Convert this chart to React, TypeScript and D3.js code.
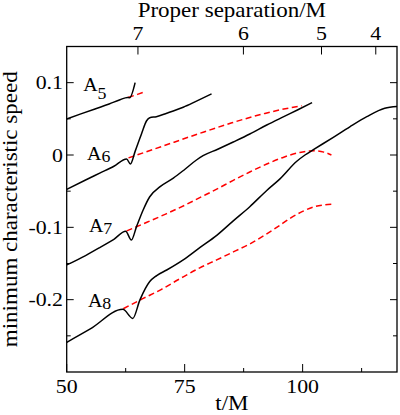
import React from "react";
import * as d3 from "d3";

// ---------- data ----------
const xTicksMajor = [50, 75, 100];
const xTicksMinor = [62.5, 87.5, 112.5];
const yTicksMajor = [0.1, 0, -0.1, -0.2];
const yTicksMinor = [0.05, -0.05, -0.15, -0.25];
const yTickLabels = ["0.1", "0", "-0.1", "-0.2"];
// top axis: proper separation labels placed at corresponding t/M
const topTickT = [65.1, 87.45, 104.0, 115.5];
const topTickLabels = ["7", "6", "5", "4"];

const a5Solid: [number, number][] = [
  [50, 0.0497], [53, 0.0568], [56, 0.0637], [59, 0.0705], [61.3, 0.0765],
  [62.9, 0.0796], [63.35, 0.0792], [64.5, 0.1],
];
const a5Dash: [number, number][] = [
  [63.0, 0.0795], [65, 0.0838], [66.8, 0.088],
];
const a6Solid: [number, number][] = [
  [50, -0.0475], [54, -0.0345], [57, -0.025], [60, -0.0155], [62.7, -0.0055],
  [63.5, -0.0125], [64.5, 0.005], [65.9, 0.03], [66.9, 0.047], [67.6, 0.0515],
  [69, 0.053], [71.2, 0.0577], [74.7, 0.066], [77.5, 0.0745], [80.7, 0.0845],
];
const a6Dash: [number, number][] = [
  [63.1, -0.004], [70, 0.0115], [78, 0.0295], [85, 0.0445], [92, 0.0575],
  [96, 0.0635], [99.8, 0.068],
];
const a7Solid: [number, number][] = [
  [50, -0.152], [54, -0.139], [57, -0.128], [60, -0.1165], [62.5, -0.1055],
  [63.7, -0.1175], [64.8, -0.099], [66.2, -0.076], [67.6, -0.0577],
  [69.8, -0.0438], [72.6, -0.032], [75, -0.02], [77.5, -0.0069], [78.9, -0.001],
  [82, 0.008], [85.3, 0.018], [88.8, 0.029], [92.4, 0.0415], [96, 0.053],
  [99, 0.0625], [102, 0.0723],
];
const a7Dash: [number, number][] = [
  [62.7, -0.105], [67, -0.093], [71.2, -0.081], [75, -0.0695], [78.2, -0.059],
  [82, -0.0465], [85.3, -0.035], [88.8, -0.0235], [92.4, -0.0125], [96, -0.003],
  [99.4, 0.0035], [102.5, 0.006], [104.5, 0.004], [106.1, 0.0],
];
const a8Solid: [number, number][] = [
  [50, -0.259], [55, -0.2405], [61.9, -0.2134], [64, -0.2259], [65.5, -0.2006],
  [67.6, -0.175], [69, -0.167], [71.2, -0.159], [74.7, -0.145], [78.2, -0.128],
  [81.8, -0.111], [85.3, -0.091], [88.8, -0.0715], [92.4, -0.049],
  [95.2, -0.033], [98.7, -0.009], [100.5, 0.0], [102.2, 0.007], [106.5, 0.0245],
  [110, 0.039], [113.6, 0.053], [117.4, 0.0646], [120, 0.067],
];
const a8Dash: [number, number][] = [
  [62, -0.2125], [66, -0.199], [70, -0.186], [74, -0.171], [78.2, -0.156],
  [81.8, -0.145], [85.3, -0.134], [88.8, -0.123], [92.4, -0.109], [95, -0.098],
  [97.5, -0.087], [100, -0.078], [102.5, -0.0715], [104.5, -0.069],
  [106.1, -0.068],
];

const solidSeries = [a5Solid, a6Solid, a7Solid, a8Solid];
const dashSeries = [a5Dash, a6Dash, a7Dash, a8Dash];

const curveLabels = ["5", "6", "7", "8"];
const curveLabelT = [53.5, 54.3, 54.7, 54.5];
const curveLabelV = [0.0885, -0.0069, -0.106, -0.21];
const curveLabelSubDy = [8, 2, 2, 2.5];

// ---------- layout ----------
const W = 400;
const H = 415;
const L = 66.7;
const R = 397;
const T = 46.5;
const B = 372;
const FONT = "'Liberation Serif', 'Times New Roman', serif";
const SX = 1.15;

const x = d3.scaleLinear().domain([50, 120]).range([L, R]);
const y = d3.scaleLinear().domain([-0.3, 0.15]).range([B, T]);

const line = d3
  .line<[number, number]>()
  .x((d) => x(d[0]))
  .y((d) => y(d[1]))
  .curve(d3.curveMonotoneX);

function Txt({
  tx,
  ty,
  anchor = "start",
  size = 19,
  sx = SX,
  rot = 0,
  children,
}: any) {
  return (
    <text
      transform={`translate(${tx},${ty})${rot ? ` rotate(${rot})` : ""} scale(${sx},1)`}
      textAnchor={anchor}
      fontSize={size}
      fontFamily={FONT}
      fill="#000"
    >
      {children}
    </text>
  );
}

export default function App() {
  return (
    <svg
      width={W}
      height={H}
      style={{ position: "absolute", left: 0, top: 0, background: "#fff" }}
    >
      <rect x={0} y={0} width={W} height={H} fill="#fff" />

      {/* curves */}
      <g fill="none">
        {dashSeries.map((s, i) => (
          <path
            key={"d" + i}
            d={line(s) || ""}
            stroke="#ff0000"
            strokeWidth={1.5}
            strokeDasharray="6,3.5"
          />
        ))}
        {solidSeries.map((s, i) => (
          <path key={"s" + i} d={line(s) || ""} stroke="#000" strokeWidth={1.5} />
        ))}
      </g>

      {/* frame */}
      <rect
        x={L}
        y={T}
        width={R - L}
        height={B - T}
        fill="none"
        stroke="#000"
        strokeWidth={1.3}
      />

      {/* bottom ticks */}
      {xTicksMajor.map((t) => (
        <g key={"xb" + t}>
          <line x1={x(t)} x2={x(t)} y1={B} y2={B - 8} stroke="#000" strokeWidth={1} />
          <Txt tx={x(t)} ty={392.5} anchor="middle">
            {String(t)}
          </Txt>
        </g>
      ))}
      {xTicksMinor.map((t) => (
        <line key={"xm" + t} x1={x(t)} x2={x(t)} y1={B} y2={B - 4} stroke="#000" strokeWidth={1} />
      ))}

      {/* top ticks */}
      {topTickT.map((t, i) => (
        <g key={"xt" + i}>
          <line x1={x(t)} x2={x(t)} y1={T} y2={T + 8} stroke="#000" strokeWidth={1} />
          <Txt tx={x(t)} ty={40} anchor="middle">
            {topTickLabels[i]}
          </Txt>
        </g>
      ))}

      {/* left/right ticks */}
      {yTicksMajor.map((v, i) => (
        <g key={"yl" + v}>
          <line x1={L} x2={L + 7} y1={y(v)} y2={y(v)} stroke="#000" strokeWidth={1} />
          <line x1={R} x2={R - 7} y1={y(v)} y2={y(v)} stroke="#000" strokeWidth={1} />
          <Txt tx={63} ty={y(v) + 6.5} anchor="end">
            {yTickLabels[i]}
          </Txt>
        </g>
      ))}
      {yTicksMinor.map((v) => (
        <g key={"ym" + v}>
          <line x1={L} x2={L + 4} y1={y(v)} y2={y(v)} stroke="#000" strokeWidth={1} />
          <line x1={R} x2={R - 4} y1={y(v)} y2={y(v)} stroke="#000" strokeWidth={1} />
        </g>
      ))}

      {/* curve labels */}
      {curveLabels.map((s, i) => (
        <Txt key={"cl" + i} tx={x(curveLabelT[i])} ty={y(curveLabelV[i])} sx={1.05}>
          A
          <tspan dy={curveLabelSubDy[i]} fontSize={17}>
            {s}
          </tspan>
        </Txt>
      ))}

      {/* axis titles */}
      <Txt tx={(L + R) / 2} ty={17} anchor="middle" size={20}>
        Proper separation/M
      </Txt>
      <Txt tx={(L + R) / 2} ty={410} anchor="middle" size={20}>
        t/M
      </Txt>
      <Txt tx={17} ty={(T + B) / 2} anchor="middle" size={20} rot={-90}>
        minimum characteristic speed
      </Txt>
    </svg>
  );
}
